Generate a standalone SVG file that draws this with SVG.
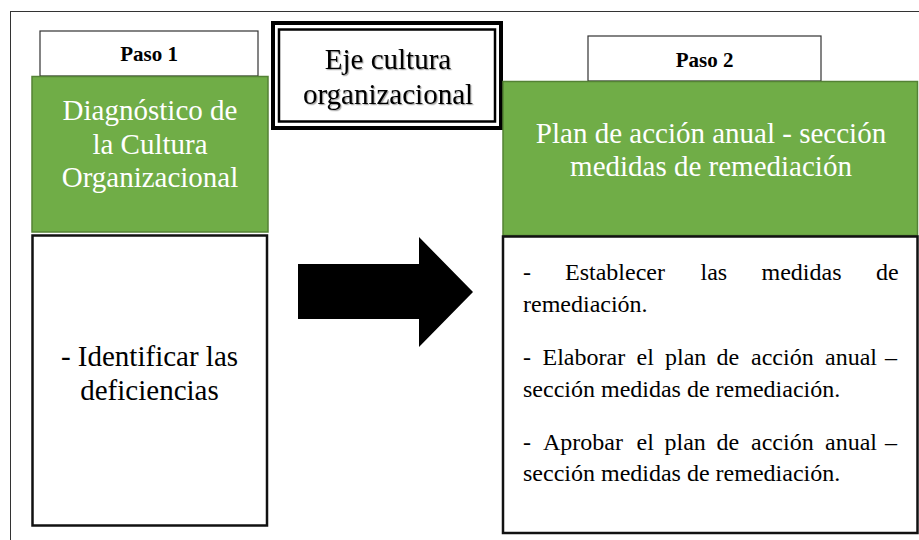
<svg xmlns="http://www.w3.org/2000/svg" width="919" height="540" viewBox="0 0 919 540">
<style>
.frame{fill:none;stroke:#333;stroke-width:1}
.tab{fill:#fff;stroke:#333;stroke-width:1.2}
.green{fill:#70AD47;stroke:#548235;stroke-width:1.5}
.wbox{fill:#fff;stroke:#111;stroke-width:2.5}
.tabtxt{font-family:"Liberation Serif",serif;font-weight:bold;font-size:21px;fill:#000;text-anchor:middle}
.gtxt{font-family:"Liberation Serif",serif;font-size:29px;fill:#fff;text-anchor:middle}
.btxt{font-family:"Liberation Serif",serif;font-size:29px;fill:#000;text-anchor:middle}
.ltxt{font-family:"Liberation Serif",serif;font-size:24px;fill:#000}
</style>
<defs>
<filter id="sh" x="-10%" y="-10%" width="120%" height="130%">
<feDropShadow dx="1.2" dy="1.2" stdDeviation="0.6" flood-color="#000" flood-opacity="0.35"/>
</filter>
</defs>
<rect width="919" height="540" fill="#fff"/>
<rect class="frame" x="10.5" y="11.5" width="930" height="560"/>

<g id="paso1">
<rect class="tab" x="40" y="31" width="218" height="45"/>
<text class="tabtxt" x="149" y="61">Paso 1</text>
</g>

<g id="diagnostico">
<rect class="green" x="32" y="76.5" width="236" height="155.5"/>
<text class="gtxt" x="150" y="120">Diagnóstico de</text>
<text class="gtxt" x="150" y="153.5">la Cultura</text>
<text class="gtxt" x="150" y="187">Organizacional</text>
</g>

<g id="identificar">
<rect class="wbox" x="32.5" y="235.5" width="234.5" height="290"/>
<text class="btxt" x="149.5" y="365.5">- Identificar las</text>
<text class="btxt" x="149.5" y="400">deficiencias</text>
</g>

<g id="eje">
<rect x="273" y="23" width="228" height="105" fill="#fff" stroke="#000" stroke-width="4"/>
<rect x="279" y="29.5" width="216" height="92" fill="none" stroke="#000" stroke-width="2.5"/>
<g filter="url(#sh)">
<text class="btxt" x="388" y="69">Eje cultura</text>
<text class="btxt" x="388" y="104">organizacional</text>
</g>
</g>

<g id="paso2">
<rect class="tab" x="588" y="36" width="233" height="45"/>
<text class="tabtxt" x="704.5" y="66.5">Paso 2</text>
</g>

<g id="plan">
<rect class="green" x="503" y="81.5" width="414.5" height="154"/>
<text class="gtxt" x="711" y="143">Plan de acción anual - sección</text>
<text class="gtxt" x="711" y="176">medidas de remediación</text>
</g>

<g id="medidas">
<rect class="wbox" x="503" y="236.5" width="414.5" height="296.5"/>
<text class="ltxt" y="280"><tspan x="523">-</tspan><tspan x="565">Establecer</tspan><tspan x="700.5">las</tspan><tspan x="761.5">medidas</tspan><tspan x="876">de</tspan></text>
<text class="ltxt" x="523" y="312">remediación.</text>
<text class="ltxt" y="365"><tspan x="523">-</tspan><tspan x="542.5">Elaborar</tspan><tspan x="636.5">el</tspan><tspan x="665">plan</tspan><tspan x="716.5">de</tspan><tspan x="751">acción</tspan><tspan x="825">anual</tspan><tspan x="885">–</tspan></text>
<text class="ltxt" x="523" y="397">sección medidas de remediación.</text>
<text class="ltxt" y="450"><tspan x="523">-</tspan><tspan x="543">Aprobar</tspan><tspan x="636.5">el</tspan><tspan x="664.5">plan</tspan><tspan x="716.5">de</tspan><tspan x="751">acción</tspan><tspan x="825">anual</tspan><tspan x="885">–</tspan></text>
<text class="ltxt" x="523" y="481">sección medidas de remediación.</text>
</g>

<g id="connectors">
<polygon points="298,264 419,264 419,237 473,292 419,347 419,319 298,319" fill="#000"/>
</g>
</svg>
